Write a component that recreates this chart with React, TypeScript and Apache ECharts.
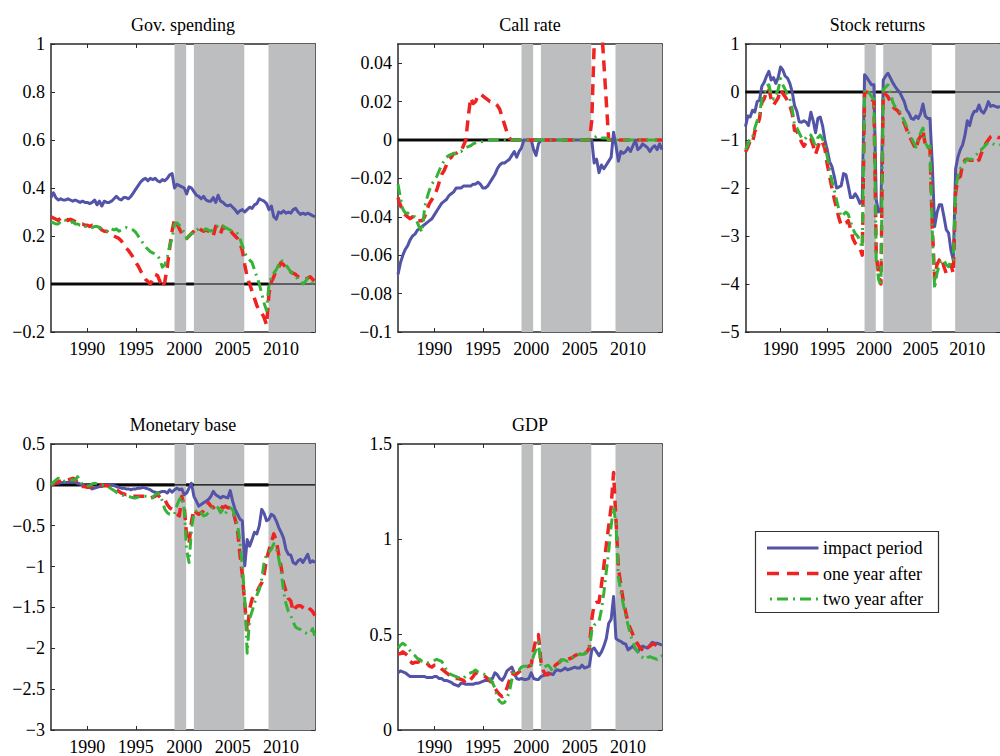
import React, { useEffect, useRef } from "react";
import * as echarts from "echarts";

// ---------- data ----------
const X_MIN = 1986.25;
const X_MAX = 2013.5;
const X_TICKS = [1990, 1995, 2000, 2005, 2010];

// quarterly observation dates, 1986Q2 .. 2013Q3
const YEARS: number[] = [];
for (let i = 0; i <= (X_MAX - X_MIN) * 4; i++) YEARS.push(X_MIN + i * 0.25);

// shaded policy regimes [start, end]
const SHADED_PERIODS = [
  [1999.0, 2000.2],
  [2001.0, 2006.2],
  [2008.7, 2013.5],
];

const PANEL_TITLES = ["Gov. spending", "Call rate", "Stock returns", "Monetary base", "GDP"];
const SERIES_NAMES = ["impact period", "one year after", "two year after"];

const Y_RANGES = [
  [-0.2, 1],
  [-0.1, 0.05],
  [-5, 1],
  [-3, 0.5],
  [0, 1.5],
];
const Y_TICKS = [
  [-0.2, 0, 0.2, 0.4, 0.6, 0.8, 1],
  [-0.1, -0.08, -0.06, -0.04, -0.02, 0, 0.02, 0.04],
  [-5, -4, -3, -2, -1, 0, 1],
  [-3, -2.5, -2, -1.5, -1, -0.5, 0, 0.5],
  [0, 0.5, 1, 1.5],
];

// Gov. spending
const GS_IMPACT = [
  0.36, 0.38, 0.36,
  0.35, 0.355, 0.35, 0.35,
  0.355, 0.35, 0.345, 0.35,
  0.345, 0.34, 0.345, 0.34,
  0.34, 0.335, 0.34, 0.35,
  0.33, 0.345, 0.325, 0.345,
  0.34, 0.34, 0.345, 0.355,
  0.365, 0.355, 0.35, 0.36,
  0.36, 0.355, 0.365, 0.38,
  0.395, 0.41, 0.425, 0.435,
  0.44, 0.43, 0.44, 0.435,
  0.44, 0.43, 0.425, 0.435,
  0.43, 0.44, 0.455, 0.46,
  0.4, 0.415, 0.41, 0.405,
  0.4, 0.375, 0.405, 0.4,
  0.385, 0.37, 0.365, 0.355,
  0.365, 0.35, 0.345, 0.345,
  0.36, 0.34, 0.37, 0.345,
  0.34, 0.33, 0.325, 0.33,
  0.32, 0.31, 0.295, 0.305,
  0.31, 0.3, 0.31, 0.32,
  0.315, 0.33, 0.335, 0.355,
  0.35, 0.345, 0.335, 0.31,
  0.325, 0.28, 0.27, 0.3,
  0.295, 0.305, 0.295, 0.3,
  0.295, 0.31, 0.315, 0.3,
  0.29, 0.295, 0.29, 0.295,
  0.29, 0.285, 0.28,
];
const GS_ONE_YEAR = [
  0.28, 0.275, 0.27,
  0.265, 0.275, 0.28, 0.275,
  0.265, 0.27, 0.265, 0.26,
  0.255, 0.25, 0.25, 0.245,
  0.245, 0.24, 0.245, 0.24,
  0.24, 0.235, 0.225, 0.22,
  0.22, 0.21, 0.205, 0.2,
  0.195, 0.19, 0.18, 0.165,
  0.15, 0.14, 0.125, 0.11,
  0.09, 0.075, 0.055, 0.035,
  0.02, 0.01, 0.0, 0.02,
  0.04, 0.035, 0.01, -0.015,
  0.01, 0.07, 0.15, 0.22,
  0.27, 0.25, 0.23, 0.21,
  0.2, 0.19, 0.2, 0.21,
  0.22, 0.23, 0.235, 0.225,
  0.22, 0.225, 0.22, 0.215,
  0.2, 0.24, 0.22, 0.21,
  0.24, 0.23, 0.22, 0.225,
  0.21, 0.2, 0.19, 0.17,
  0.14, 0.08, 0.03, 0.0,
  -0.03, -0.06, -0.09, -0.11,
  -0.12, -0.14, -0.17, -0.04,
  0.01, 0.03, 0.06, 0.07,
  0.09, 0.08, 0.07, 0.06,
  0.05, 0.045, 0.04, 0.03,
  0.025, 0.02, 0.02, 0.025,
  0.03, 0.02, 0.01,
];
const GS_TWO_YEAR = [
  0.26, 0.255, 0.25,
  0.25, 0.26, 0.27, 0.265,
  0.26, 0.255, 0.26, 0.25,
  0.25, 0.245, 0.245, 0.24,
  0.24, 0.24, 0.235, 0.24,
  0.24, 0.235, 0.23, 0.22,
  0.22, 0.23, 0.23, 0.225,
  0.23, 0.22, 0.225, 0.23,
  0.235, 0.23, 0.225, 0.225,
  0.215, 0.2, 0.185, 0.17,
  0.155, 0.145, 0.135, 0.13,
  0.125, 0.12, 0.1, 0.07,
  0.08, 0.11, 0.16, 0.19,
  0.25, 0.255, 0.245, 0.23,
  0.215, 0.19, 0.2, 0.21,
  0.21, 0.225, 0.23, 0.225,
  0.225, 0.23, 0.225, 0.22,
  0.225, 0.235, 0.245, 0.25,
  0.24, 0.235, 0.23, 0.225,
  0.22, 0.215, 0.21, 0.19,
  0.16, 0.13, 0.11, 0.1,
  0.09, 0.06, 0.03, 0.0,
  -0.04, -0.08, -0.11, 0.0,
  0.03, 0.045, 0.06, 0.08,
  0.1, 0.09, 0.08, 0.065,
  0.05, 0.04, 0.03, 0.02,
  0.015, 0.0, 0.01, 0.025,
  0.02, 0.005, 0.0,
];

// Call rate
const CR_IMPACT = [
  -0.07, -0.064, -0.06,
  -0.057, -0.055, -0.052, -0.05,
  -0.049, -0.047, -0.046, -0.045,
  -0.044, -0.043, -0.042, -0.041,
  -0.039, -0.037, -0.035, -0.033,
  -0.032, -0.031, -0.029, -0.028,
  -0.027, -0.025, -0.025, -0.025,
  -0.024, -0.024, -0.024, -0.024,
  -0.023, -0.023, -0.022, -0.023,
  -0.025, -0.025, -0.024, -0.022,
  -0.02, -0.018, -0.015, -0.013,
  -0.012, -0.012, -0.011, -0.01,
  -0.008, -0.006, -0.009, -0.006,
  -0.004, 0, 0, 0,
  0, -0.005, -0.008, -0.002,
  0, 0, 0, 0,
  0, 0, 0, 0,
  0, 0, 0, 0,
  0, 0, 0, 0,
  0, 0, 0, 0,
  0, 0, -0.012, -0.01,
  -0.017, -0.013, -0.015, -0.013,
  -0.011, -0.009, 0.004, -0.003,
  -0.011, -0.006, -0.007, -0.006,
  -0.004, -0.006, -0.003, 0,
  -0.005, -0.004, -0.002, -0.003,
  -0.004, -0.006, -0.004, -0.003,
  -0.005, -0.002, -0.005,
];
const CR_ONE_YEAR = [
  -0.03, -0.034, -0.037,
  -0.039, -0.04, -0.041, -0.04,
  -0.04, -0.042, -0.042, -0.042,
  -0.04, -0.036, -0.033, -0.031,
  -0.029, -0.026, -0.022, -0.018,
  -0.016, -0.013, -0.01, -0.009,
  -0.007, -0.007, -0.006, -0.006,
  -0.003, 0.0, 0.012, 0.022,
  0.019, 0.02, 0.023, 0.024,
  0.023, 0.022, 0.021, 0.02,
  0.02, 0.019, 0.018, 0.016,
  0.012, 0.008, 0.004, 0.001,
  0, 0, 0, 0,
  0, 0, 0, 0,
  0, 0, 0, 0,
  0, 0, 0, 0,
  0, 0, 0, 0,
  0, 0, 0, 0,
  0, 0, 0, 0,
  0, 0, 0, 0,
  0, 0.01, 0.05, 0.06,
  0.065, 0.06, 0.04, 0.02,
  0, 0, 0, 0,
  0, 0, 0, 0,
  0, 0, 0, 0,
  0, 0, 0, 0,
  0, 0, 0, 0,
  0, 0, 0,
];
const CR_TWO_YEAR = [
  -0.023, -0.03, -0.036,
  -0.038, -0.038, -0.039, -0.04,
  -0.04, -0.043, -0.046, -0.048,
  -0.035, -0.03, -0.026, -0.023,
  -0.021, -0.019, -0.016, -0.013,
  -0.011, -0.009, -0.008, -0.0075,
  -0.007, -0.007, -0.006, -0.006,
  -0.005, -0.004, -0.0035, -0.003,
  -0.002, -0.0015, -0.001, -0.001,
  -0.0008, -0.0005, 0, 0,
  0, 0, 0, 0,
  0, 0, 0, 0,
  0, 0, 0, 0,
  0, 0, 0, 0,
  0, 0, 0, 0,
  0, 0, 0, 0,
  0, 0, 0, 0,
  0, 0, 0, 0,
  0, 0, 0, 0,
  0, 0, 0, 0,
  0, 0, 0.001, 0.002,
  0.002, 0.001, 0.001, 0.001,
  0, 0, 0, 0,
  0, 0, 0, 0,
  0, 0, 0, 0,
  0, 0, 0, 0,
  0, 0, 0, 0,
  0, 0, 0,
];

// Stock returns
const SR_IMPACT = [
  -0.72, -0.5, -0.52,
  -0.38, -0.42, -0.2, -0.17,
  0.12, 0.2, 0.33, 0.43,
  0.25, 0.3, 0.18, 0.3,
  0.52, 0.46, 0.33, 0.29,
  0.18, 0.0, -0.28, -0.4,
  -0.62, -0.63, -0.6, -0.63,
  -0.7, -0.42, -0.6, -0.85,
  -0.55, -0.52, -0.7, -1.0,
  -1.2, -1.45, -1.55, -1.75,
  -2.0, -1.98, -1.95, -1.7,
  -1.72, -1.95, -2.2, -2.2,
  -2.12, -2.2, -2.32, -2.25,
  0.36, 0.3, 0.22, 0.15,
  0.15, -2.25, -2.5, -2.45,
  0.25, 0.33, 0.39, 0.3,
  0.2, 0.12, 0.05, 0.0,
  -0.1, -0.2, -0.37, -0.44,
  -0.55, -0.57, -0.5, -0.55,
  -0.45, -0.25, -0.5, -0.55,
  -0.55, -1.5, -2.8, -2.52,
  -2.35, -2.35, -2.6, -2.87,
  -2.94, -3.3, -3.5, -1.6,
  -1.35, -1.2, -1.1, -0.9,
  -0.6, -0.7, -0.5, -0.4,
  -0.4, -0.27, -0.4, -0.44,
  -0.35, -0.2, -0.3, -0.28,
  -0.3, -0.32, -0.3,
];
const SR_ONE_YEAR = [
  -1.25, -1.15, -1.02,
  -1.06, -0.82, -0.72, -0.55,
  -0.22, -0.14, 0.0, 0.07,
  -0.15, -0.27, -0.2, -0.12,
  0.05, -0.03, -0.1, -0.18,
  -0.28, -0.45, -0.8, -0.82,
  -0.9, -1.05, -1.13, -1.05,
  -0.96, -0.98, -1.12, -1.3,
  -1.15, -1.0, -1.05, -1.18,
  -1.5, -1.75, -2.0, -2.22,
  -2.42, -2.62, -2.78, -2.75,
  -2.73, -2.68, -2.85, -3.05,
  -3.15, -3.2, -3.25, -3.4,
  0.0, 0.0, -0.05, -0.15,
  -0.2, -3.4, -3.8, -4.0,
  0.0, -0.05, -0.1, -0.2,
  -0.3, -0.35, -0.38, -0.45,
  -0.55, -0.65, -0.78, -0.9,
  -1.0, -1.1, -1.2, -1.0,
  -0.92, -0.8, -1.1, -1.2,
  -1.17, -2.8, -3.9, -3.6,
  -3.5, -3.45, -3.64, -3.78,
  -3.64, -3.6, -3.78, -2.1,
  -1.8, -1.76, -1.5, -1.42,
  -1.4, -1.42, -1.42, -1.42,
  -1.35, -1.42, -1.28, -1.17,
  -1.07, -1.0, -0.93, -0.9,
  -0.92, -0.95, -0.95,
];
const SR_TWO_YEAR = [
  -1.2, -1.1, -0.95,
  -0.95, -0.75, -0.6, -0.45,
  -0.15, -0.05, 0.12, 0.15,
  -0.05, -0.15, -0.05, 0.05,
  0.28, 0.15, 0.05, -0.05,
  -0.15, -0.35, -0.7, -0.75,
  -0.85, -0.95, -1.0, -0.95,
  -0.88, -0.9, -1.0, -1.15,
  -0.95, -0.9, -0.98, -1.1,
  -1.35, -1.6, -1.85, -2.05,
  -2.25, -2.45, -2.6, -2.55,
  -2.5, -2.55, -2.7, -2.85,
  -2.95, -3.0, -3.1, -3.25,
  0.05, 0.05, -0.02, -0.1,
  -0.15, -3.5, -3.9, -4.05,
  0.05, 0.1, 0.15, 0.0,
  -0.2, -0.3, -0.33, -0.4,
  -0.5, -0.6, -0.72, -0.85,
  -0.95, -1.05, -1.15, -0.95,
  -0.85, -0.75, -1.05, -1.15,
  -1.12, -2.9, -4.1, -3.78,
  -3.6, -3.5, -3.5, -3.6,
  -3.64, -3.5, -3.5, -2.0,
  -1.75, -1.6, -1.55, -1.45,
  -1.4, -1.4, -1.4, -1.35,
  -1.3, -1.2, -1.2, -1.15,
  -1.1, -1.05, -1.05, -1.08,
  -1.1, -1.12, -1.1,
];

// Monetary base
const MB_IMPACT = [
  0.0, 0.01, 0.02,
  0.02, 0.025, 0.03, 0.03,
  0.03, 0.035, 0.04, 0.03,
  0.02, 0.01, 0.0, -0.01,
  -0.02, -0.03, -0.05, -0.04,
  -0.03, -0.02, -0.02, -0.01,
  0.0, 0.0, 0.0, -0.01,
  -0.02, -0.03, -0.04, -0.04,
  -0.05, -0.05, -0.06, -0.05,
  -0.05, -0.04, -0.04, -0.03,
  -0.04, -0.05, -0.06, -0.08,
  -0.09, -0.1, -0.09, -0.08,
  -0.08, -0.1, -0.06, -0.09,
  -0.06, -0.04, -0.06, -0.05,
  -0.12, -0.1, -0.04, 0.02,
  -0.14, -0.2, -0.26, -0.24,
  -0.22, -0.2, -0.18, -0.14,
  -0.08, -0.12, -0.14, -0.16,
  -0.14, -0.15, -0.16, -0.07,
  -0.2, -0.3, -0.36, -0.42,
  -0.44, -0.99, -0.67, -0.75,
  -0.67, -0.58, -0.6, -0.5,
  -0.3, -0.35, -0.44, -0.42,
  -0.36, -0.38, -0.44, -0.52,
  -0.58, -0.65, -0.79, -0.85,
  -0.86, -0.95, -0.97, -0.93,
  -0.91, -0.95, -0.9, -0.85,
  -0.95, -0.93, -0.95,
];
const MB_ONE_YEAR = [
  0.0, 0.01, 0.03,
  0.04, 0.045, 0.05, 0.06,
  0.06, 0.07, 0.08, 0.07,
  0.02, 0.0, -0.02, -0.02,
  -0.03, -0.03, -0.02, -0.01,
  -0.01, -0.01, 0.0, -0.01,
  -0.01, -0.02, -0.03, -0.05,
  -0.06, -0.08, -0.1, -0.11,
  -0.12, -0.12, -0.13, -0.14,
  -0.14, -0.14, -0.14, -0.14,
  -0.14, -0.15, -0.16, -0.15,
  -0.14, -0.12, -0.15, -0.18,
  -0.18, -0.24, -0.28, -0.3,
  -0.34, -0.36, -0.38, -0.14,
  -0.26, -0.63, -0.72, -0.45,
  -0.3, -0.34, -0.36, -0.34,
  -0.32, -0.28, -0.22, -0.26,
  -0.28, -0.26, -0.24, -0.26,
  -0.28, -0.26, -0.28, -0.28,
  -0.3, -0.42, -0.55, -0.85,
  -1.1, -1.45, -1.8, -1.52,
  -1.4, -1.35, -1.31, -1.25,
  -1.2, -1.1, -0.91, -0.8,
  -0.7, -0.6, -0.68, -0.85,
  -1.0, -1.2, -1.3, -1.39,
  -1.42, -1.55, -1.5, -1.48,
  -1.48, -1.5, -1.52, -1.55,
  -1.52, -1.55, -1.6,
];
const MB_TWO_YEAR = [
  0.0, 0.03, 0.06,
  0.08, 0.06, 0.04, 0.05,
  0.06, 0.06, 0.06, 0.06,
  0.1, 0.05, 0.0, -0.01,
  -0.01, -0.01, 0.01, 0.02,
  0.01, 0.0, 0.0, -0.01,
  -0.02, -0.03, -0.05, -0.07,
  -0.09, -0.11, -0.12, -0.13,
  -0.14, -0.14, -0.15, -0.16,
  -0.16, -0.15, -0.14, -0.14,
  -0.14, -0.14, -0.15, -0.16,
  -0.12, -0.1, -0.12, -0.2,
  -0.3, -0.34, -0.36, -0.36,
  -0.36, -0.25, -0.18, -0.14,
  -0.3, -0.8, -0.95, -0.55,
  -0.34, -0.32, -0.3, -0.34,
  -0.38, -0.37, -0.34, -0.3,
  -0.26, -0.26, -0.28, -0.34,
  -0.3, -0.35, -0.3, -0.28,
  -0.3, -0.4, -0.48, -0.7,
  -1.0, -1.4, -2.06, -1.64,
  -1.55, -1.45, -1.35, -1.28,
  -1.15, -0.95, -0.85, -0.82,
  -0.79, -0.72, -0.78, -0.9,
  -1.05, -1.3, -1.45, -1.55,
  -1.6, -1.68, -1.74, -1.76,
  -1.77, -1.79, -1.81, -1.82,
  -1.82, -1.76, -1.86,
];

// GDP
const GDP_IMPACT = [
  0.3, 0.31, 0.305,
  0.3, 0.29, 0.28, 0.28,
  0.28, 0.28, 0.28, 0.28,
  0.28, 0.275, 0.275, 0.275,
  0.28, 0.28, 0.27, 0.27,
  0.26, 0.26, 0.255, 0.25,
  0.24, 0.235, 0.23, 0.245,
  0.245, 0.24, 0.24, 0.24,
  0.24, 0.245, 0.245, 0.25,
  0.255, 0.26, 0.26, 0.265,
  0.27, 0.3, 0.29, 0.27,
  0.26, 0.28, 0.31, 0.32,
  0.33, 0.3, 0.27, 0.265,
  0.27, 0.265, 0.265, 0.27,
  0.3, 0.27, 0.265, 0.265,
  0.28, 0.285, 0.29, 0.3,
  0.295, 0.29, 0.31, 0.315,
  0.31, 0.315, 0.325, 0.315,
  0.32, 0.325, 0.33, 0.325,
  0.325, 0.34, 0.325, 0.33,
  0.335, 0.42, 0.43, 0.41,
  0.39, 0.41, 0.44, 0.48,
  0.56, 0.58, 0.7, 0.48,
  0.47, 0.465, 0.455, 0.45,
  0.42, 0.43, 0.44, 0.425,
  0.41, 0.43, 0.44, 0.435,
  0.43, 0.445, 0.46, 0.455,
  0.455, 0.45, 0.445,
];
const GDP_ONE_YEAR = [
  0.4, 0.4, 0.41,
  0.4, 0.39, 0.36, 0.35,
  0.355, 0.355, 0.36, 0.36,
  0.36, 0.35, 0.335, 0.33,
  0.34, 0.34, 0.335, 0.32,
  0.31, 0.3, 0.29, 0.28,
  0.27, 0.27, 0.27, 0.265,
  0.26, 0.245, 0.25, 0.265,
  0.28, 0.3, 0.295, 0.29,
  0.29, 0.28, 0.27, 0.255,
  0.25, 0.22, 0.2, 0.185,
  0.175, 0.19, 0.22, 0.26,
  0.3, 0.29, 0.295, 0.305,
  0.315, 0.32, 0.33, 0.335,
  0.34, 0.42, 0.48, 0.5,
  0.36, 0.31, 0.29, 0.29,
  0.3, 0.32, 0.34, 0.35,
  0.36, 0.375, 0.37, 0.37,
  0.375, 0.38, 0.39, 0.395,
  0.405, 0.4, 0.4, 0.41,
  0.43, 0.58, 0.66, 0.67,
  0.67, 0.76, 0.86, 0.97,
  1.07, 1.17, 1.35, 1.1,
  0.85, 0.76, 0.68, 0.62,
  0.56, 0.53, 0.5, 0.47,
  0.45, 0.43, 0.42, 0.41,
  0.43, 0.44, 0.45, 0.45,
  0.44, 0.445, 0.44,
];
const GDP_TWO_YEAR = [
  0.43, 0.445, 0.455,
  0.445, 0.43, 0.415, 0.4,
  0.39, 0.375, 0.37, 0.36,
  0.355, 0.35, 0.355, 0.36,
  0.365, 0.37, 0.365, 0.36,
  0.34, 0.315, 0.3, 0.29,
  0.285, 0.28, 0.275, 0.27,
  0.27, 0.285, 0.295, 0.3,
  0.305, 0.315, 0.305, 0.3,
  0.295, 0.29, 0.28, 0.265,
  0.25, 0.22, 0.17, 0.15,
  0.14, 0.145, 0.17, 0.2,
  0.265, 0.31, 0.315, 0.315,
  0.33, 0.335, 0.335, 0.325,
  0.34, 0.39, 0.42, 0.46,
  0.34, 0.325, 0.335, 0.34,
  0.325, 0.305, 0.325, 0.34,
  0.36, 0.37, 0.365, 0.36,
  0.37, 0.38, 0.385, 0.385,
  0.4, 0.395, 0.4, 0.41,
  0.42, 0.52, 0.55, 0.56,
  0.57, 0.63, 0.72, 0.83,
  0.94, 1.07, 1.17, 1.08,
  0.8, 0.73, 0.66, 0.6,
  0.55, 0.5, 0.46, 0.43,
  0.41, 0.39, 0.38, 0.37,
  0.38, 0.385, 0.38, 0.375,
  0.37, 0.385, 0.39,
];

const PANEL_SERIES = [
  [GS_IMPACT, GS_ONE_YEAR, GS_TWO_YEAR],
  [CR_IMPACT, CR_ONE_YEAR, CR_TWO_YEAR],
  [SR_IMPACT, SR_ONE_YEAR, SR_TWO_YEAR],
  [MB_IMPACT, MB_ONE_YEAR, MB_TWO_YEAR],
  [GDP_IMPACT, GDP_ONE_YEAR, GDP_TWO_YEAR],
];
// panels that carry a horizontal zero reference line
const HAS_ZERO_LINE = [true, true, true, true, false];

// ---------- styling ----------
const FONT = "'Liberation Serif', 'Times New Roman', serif";
const FRAME = "#2a2a2a";
const BAND = "#bdbec0";
const LINE_COLORS = ["#5353a8", "#f02323", "#36b336"];
const LINE_WIDTHS = [3, 3.5, 3];
const LINE_DASHES: any[] = ["solid", [11, 7], [11, 5, 2, 5]];

const GRID_W = 264;
const GRID_H = 288;
const GRID_POS = [
  [51, 44],
  [398, 44],
  [745.5, 44],
  [51, 444],
  [398, 444],
];

const fmtNum = (v: number) => {
  const r = Math.round(v * 1000) / 1000;
  if (r === 0) return "0";
  return r < 0 ? "\u2212" + String(-r) : String(r);
};

function buildOption() {
  const grid: any[] = [];
  const xAxis: any[] = [];
  const yAxis: any[] = [];
  const series: any[] = [];
  const graphic: any[] = [];

  const tickStyle = { color: FRAME, width: 1 };
  const lineAxis = { show: true, onZero: false, lineStyle: { color: FRAME, width: 1.5 } };
  const labelStyle = { fontFamily: FONT, fontSize: 18, color: "#000" };

  PANEL_TITLES.forEach((title, g) => {
    const [left, top] = GRID_POS[g];
    grid.push({ left, top, width: GRID_W, height: GRID_H });
    const [yMin, yMax] = Y_RANGES[g];

    ["bottom", "top"].forEach((pos, k) => {
      xAxis.push({
        type: "value",
        gridIndex: g,
        position: pos,
        min: X_MIN,
        max: X_MAX,
        axisLine: lineAxis,
        axisTick: { show: true, inside: true, length: 4, customValues: X_TICKS, lineStyle: tickStyle },
        axisLabel:
          k === 0
            ? { show: true, customValues: X_TICKS, margin: 8, ...labelStyle, formatter: (v: number) => String(Math.round(v)) }
            : { show: false },
        splitLine: { show: false },
      });
    });
    ["left", "right"].forEach((pos, k) => {
      yAxis.push({
        type: "value",
        gridIndex: g,
        position: pos,
        min: yMin,
        max: yMax,
        axisLine: lineAxis,
        axisTick: { show: true, inside: true, length: 4, customValues: Y_TICKS[g], lineStyle: tickStyle },
        axisLabel:
          k === 0
            ? { show: true, customValues: Y_TICKS[g], margin: 6, ...labelStyle, formatter: (v: number) => fmtNum(v) }
            : { show: false },
        splitLine: { show: false },
      });
    });

    const xi = 2 * g;
    const yi = 2 * g;

    // thick zero line, partly hidden by the shaded bands
    if (HAS_ZERO_LINE[g]) {
      series.push({
        type: "line",
        xAxisIndex: xi,
        yAxisIndex: yi,
        z: 1,
        silent: true,
        symbol: "none",
        data: [[X_MIN, 0], [X_MAX, 0]],
        lineStyle: { color: "#151515", width: 3.2 },
      });
    }

    // shaded regimes
    series.push({
      type: "custom",
      xAxisIndex: xi,
      yAxisIndex: yi,
      z: 2,
      silent: true,
      clip: true,
      data: SHADED_PERIODS.map(([a, b]) => [a, b, yMin]),
      encode: { x: [0, 1], y: 2 },
      renderItem: (params: any, api: any) => {
        const p0 = api.coord([api.value(0), api.value(2)]);
        const p1 = api.coord([api.value(1), api.value(2)]);
        const cs = params.coordSys;
        return {
          type: "rect",
          shape: { x: p0[0], y: cs.y, width: p1[0] - p0[0], height: cs.height },
          style: { fill: BAND },
        };
      },
    });

    // thin zero line on top of the bands
    if (HAS_ZERO_LINE[g]) {
      series.push({
        type: "line",
        xAxisIndex: xi,
        yAxisIndex: yi,
        z: 3,
        silent: true,
        symbol: "none",
        data: [[X_MIN, 0], [X_MAX, 0]],
        lineStyle: { color: "#000", width: 1.2 },
      });
    }

    PANEL_SERIES[g].forEach((vals, s) => {
      series.push({
        type: "line",
        name: SERIES_NAMES[s],
        xAxisIndex: xi,
        yAxisIndex: yi,
        z: 4 + s,
        symbol: "none",
        showSymbol: false,
        clip: true,
        data: YEARS.map((t, i) => [t, vals[i]]),
        lineStyle: { color: LINE_COLORS[s], width: LINE_WIDTHS[s], type: LINE_DASHES[s], cap: "butt", join: "round" },
      });
    });

    graphic.push({
      type: "text",
      x: left + GRID_W / 2,
      y: top - 19,
      style: {
        text: title,
        fontFamily: FONT,
        fontSize: 18,
        fill: "#000",
        align: "center",
        verticalAlign: "middle",
        textAlign: "center",
        textVerticalAlign: "middle",
      },
    });
  });

  // legend box
  const lgX = 755.5;
  const lgY = 531.5;
  graphic.push({
    type: "rect",
    shape: { x: lgX, y: lgY, width: 183, height: 81 },
    style: { fill: "#fff", stroke: "#333", lineWidth: 1.2 },
    z: 10,
  });
  SERIES_NAMES.forEach((name, s) => {
    const y = lgY + 16.5 + s * 25.5;
    graphic.push({
      type: "line",
      shape: { x1: lgX + 11.5, y1: y, x2: lgX + 63, y2: y },
      style: {
        stroke: LINE_COLORS[s],
        lineWidth: LINE_WIDTHS[s],
        lineDash: s === 0 ? null : s === 1 ? [12, 8] : [11, 5, 2, 5],
        lineDashOffset: s === 2 ? 13 : 0,
        lineCap: "butt",
      },
      z: 11,
    });
    graphic.push({
      type: "text",
      x: lgX + 67.5,
      y,
      style: {
        text: name,
        fontFamily: FONT,
        fontSize: 18,
        fill: "#000",
        align: "left",
        verticalAlign: "middle",
        textAlign: "left",
        textVerticalAlign: "middle",
      },
      z: 11,
    });
  });

  return {
    animation: false,
    backgroundColor: "#fff",
    textStyle: { fontFamily: FONT },
    grid,
    xAxis,
    yAxis,
    series,
    graphic,
  };
}

export default function App() {
  const ref = useRef<HTMLDivElement>(null);
  useEffect(() => {
    if (!ref.current) return;
    const chart = echarts.init(ref.current, null, { renderer: "svg" });
    chart.setOption(buildOption() as any);
    return () => chart.dispose();
  }, []);
  return (
    <div
      ref={ref}
      style={{ position: "absolute", left: 0, top: 0, width: 1000, height: 756, background: "#fff" }}
    />
  );
}
